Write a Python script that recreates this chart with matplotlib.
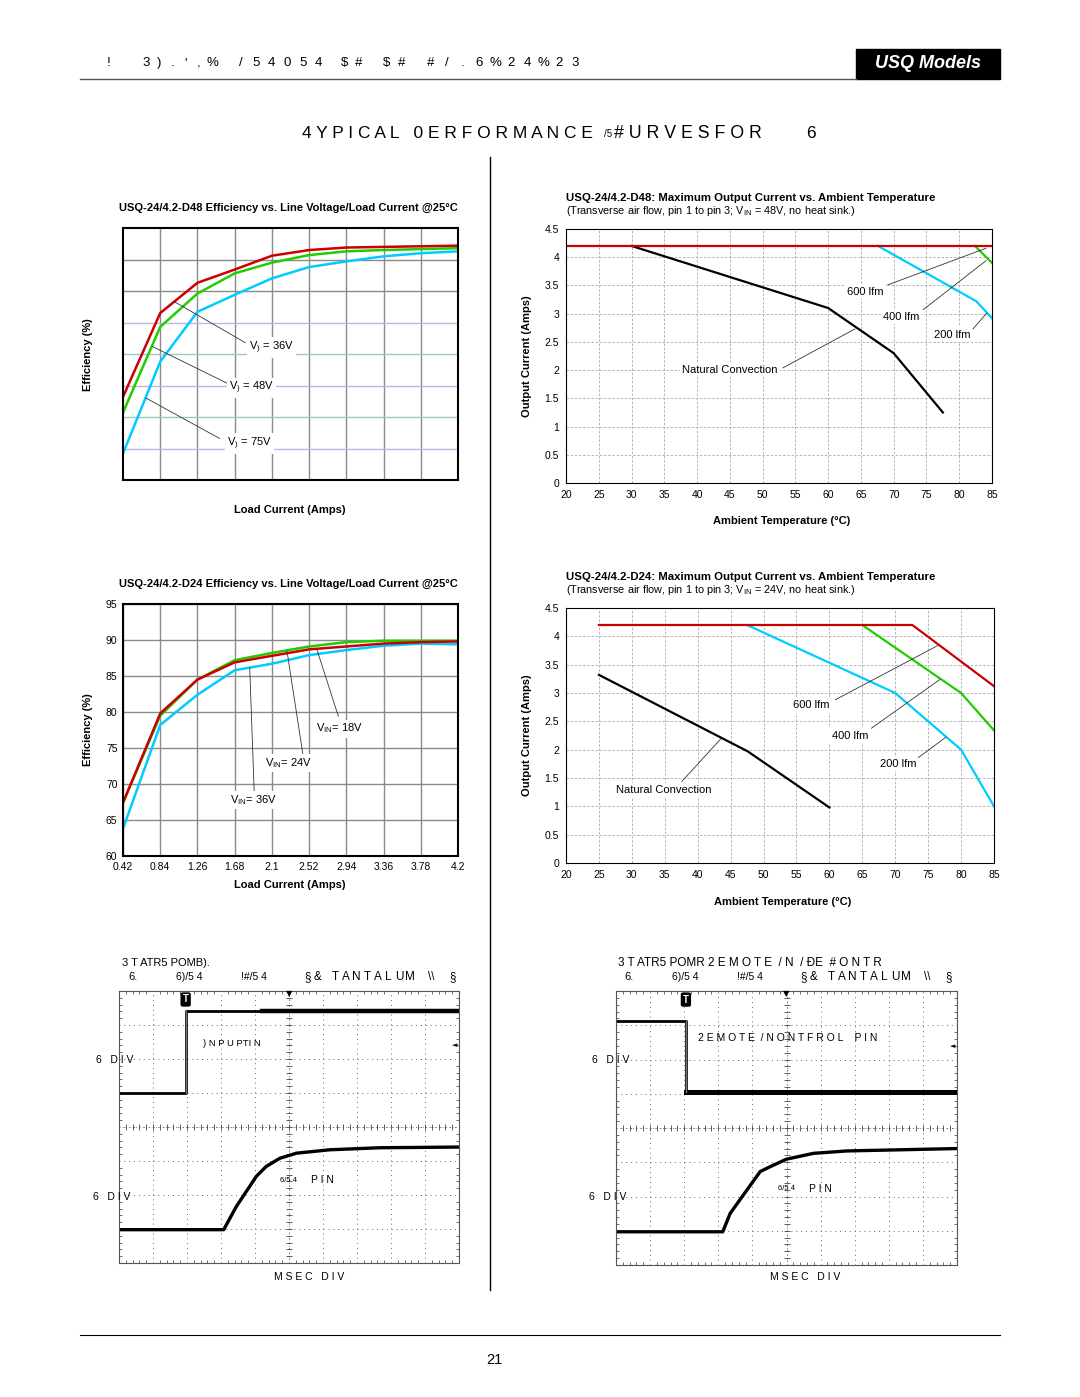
import numpy as np
import matplotlib.pyplot as plt
from matplotlib.patches import Rectangle

plt.rcParams['font.family'] = ['Liberation Sans', 'DejaVu Sans']
plt.rcParams['mathtext.fontset'] = 'custom'
plt.rcParams['mathtext.rm'] = 'Liberation Sans'

W, H = 1080, 1397

# -- data --
load_amps = [0.42, 0.84, 1.26, 1.68, 2.1, 2.52, 2.94, 3.36, 3.78, 4.2]

# D48 efficiency (no scale printed, grid units 55..95)
d48_eff_36v = [68.2, 81.5, 86.3, 88.4, 90.6, 91.5, 91.9, 92.0, 92.1, 92.2]
d48_eff_48v = [65.7, 79.3, 84.6, 87.8, 89.5, 90.7, 91.3, 91.5, 91.65, 91.8]
d48_eff_75v = [59.2, 73.8, 81.7, 84.4, 87.0, 88.8, 89.7, 90.5, 91.0, 91.3]

# D24 efficiency
d24_eff_18v = [67.4, 79.8, 84.5, 86.9, 87.8, 88.7, 89.1, 89.5, 89.7, 89.8]
d24_eff_24v = [67.4, 79.5, 84.5, 87.2, 88.2, 89.1, 89.7, 89.9, 89.9, 89.9]
d24_eff_36v = [63.8, 78.2, 82.4, 85.8, 86.7, 87.9, 88.6, 89.2, 89.5, 89.4]

# D48 derating
d48_600_t = [20, 85];             d48_600_i = [4.2, 4.2]
d48_400_t = [82.4, 85];           d48_400_i = [4.2, 3.9]
d48_200_t = [67.6, 82.6, 85];     d48_200_i = [4.2, 3.22, 2.92]
d48_nc_t = [30, 60, 70, 77.5];    d48_nc_i = [4.2, 3.1, 2.3, 1.25]

# D24 derating
d24_600_t = [25, 72.6, 85];       d24_600_i = [4.2, 4.2, 3.12]
d24_400_t = [65, 80, 85];         d24_400_i = [4.2, 3.0, 2.34]
d24_200_t = [47.5, 70, 80, 85];   d24_200_i = [4.2, 3.0, 2.0, 1.0]
d24_nc_t = [25, 47.6, 60];        d24_nc_i = [3.32, 1.97, 0.98]

# scope traces in divisions (10 x 8 screen)
sc1_in_x = [0, 1.96, 1.96, 10];   sc1_in_y = [5.0, 5.0, 7.4, 7.4]
sc1_out_x = [0, 3.08, 3.45, 4.04, 4.33, 4.73, 5.22, 6.2, 7.67, 10]
sc1_out_y = [0.98, 0.98, 1.66, 2.55, 2.84, 3.08, 3.23, 3.33, 3.39, 3.41]
sc2_ctl_x = [0, 2.05, 2.05, 10];  sc2_ctl_y = [7.12, 7.12, 5.06, 5.06]
sc2_out_x = [0, 3.13, 3.35, 3.84, 4.23, 4.52, 5.0, 5.79, 6.77, 10]
sc2_out_y = [0.97, 0.97, 1.51, 2.19, 2.73, 2.87, 3.09, 3.26, 3.33, 3.40]

RED, GREEN, CYAN = '#cc0000', '#22cc00', '#00ccff'

fig = plt.figure(figsize=(W / 100, H / 100), dpi=100)


def box(x0, y0, x1, y1):
    return [x0 / W, 1 - y1 / H, (x1 - x0) / W, (y1 - y0) / H]


def ftext(x, y, s, **kw):
    kw.setdefault('va', 'center')
    kw.setdefault('parse_math', False)
    return fig.text(x / W, 1 - y / H, s, **kw)


def spaced(x0, x1, y, chars, size, **kw):
    # letter-spaced run: one glyph per slot between x0 and x1 (centres)
    n = len(chars)
    for k, ch in enumerate(chars):
        x = x0 + (x1 - x0) * k / (n - 1) if n > 1 else x0
        ftext(x, y, ch, fontsize=size, ha='center', **kw)


def leader(ax, p0, p1, label, tp, size=8):
    ax.plot([p0[0], p1[0]], [p0[1], p1[1]], color='#333333', lw=0.6, zorder=4)
    ax.text(tp[0], tp[1], label, ha='center', va='center', fontsize=size, zorder=5,
            bbox=dict(facecolor='white', edgecolor='none', pad=1.5))


# ---------------- page furniture ----------------
ftext(109, 63, '!', fontsize=9.5, ha='center')
spaced(146, 212, 63, "3).',%", 9.5)
spaced(241, 318, 63, '/54054', 9.5)
spaced(345, 359, 63, '$#', 9.5)
spaced(387, 402, 63, '$#', 9.5)
spaced(431, 575, 63, '#/.6%24%23', 9.5)
fig.add_artist(plt.Line2D([80 / W, 856 / W], [1 - 79 / H] * 2, color='#555555', lw=1))
fig.add_artist(Rectangle((856 / W, 1 - 79 / H), 144 / W, 30 / H, color='black',
                         transform=fig.transFigure))
ftext(928, 64, 'USQ Models', fontsize=13, color='white', weight='bold',
      style='italic', ha='center')
ftext(302, 133, '4 Y P I C A L   0 E R F O R M A N C E', fontsize=12.5, ha='left')
ftext(604, 134, '/5', fontsize=7, ha='left')
ftext(614, 133, '# U R V E S F O R', fontsize=12.8, ha='left')
ftext(806, 133, '6', fontsize=12.5, ha='left')
fig.add_artist(plt.Line2D([490 / W] * 2, [1 - 157 / H, 1 - 1290 / H], color='black', lw=1))
fig.add_artist(plt.Line2D([80 / W, 1000 / W], [1 - 1335 / H] * 2, color='black', lw=0.8))
ftext(494, 1360, '21', fontsize=10.5, ha='center')

# ---------------- D48 efficiency ----------------
ax = fig.add_axes(box(123, 228, 458, 480))
ax.set_xlim(0.42, 4.2)
ax.set_ylim(55, 95)
for xv in load_amps[1:-1]:
    ax.axvline(xv, color='#8a8a8a', lw=1.0, zorder=0)
grid_cols = ['#b8b8e6', '#9cc8c8', '#b8b8e6', '#9cc8c8', '#b8b8e6', '#8a8a8a', '#8a8a8a']
for yv, c in zip(range(60, 95, 5), grid_cols):
    ax.axhline(yv, color=c, lw=1.0, zorder=0)
ax.plot(load_amps, d48_eff_75v, color=CYAN, lw=1.8)
ax.plot(load_amps, d48_eff_48v, color=GREEN, lw=1.8)
ax.plot(load_amps, d48_eff_36v, color=RED, lw=1.8)
ax.set_xticks([]); ax.set_yticks([])
for s in ax.spines.values():
    s.set_linewidth(1.5)
leader(ax, (1.0, 83.3), (1.80, 76.8), r'V$_{)}$ = 36V', (2.1, 76.0))
leader(ax, (0.75, 76.2), (1.59, 70.4), r'V$_{)}$ = 48V', (1.87, 69.6))
leader(ax, (0.68, 68.0), (1.51, 61.6), r'V$_{)}$ = 75V', (1.85, 60.8))
ftext(288, 208, 'USQ-24/4.2-D48 Efficiency vs. Line Voltage/Load Current @25°C',
      fontsize=8, weight='bold', ha='center')
ftext(88, 355, 'Efficiency (%)', fontsize=8, weight='bold', rotation=90, ha='center')
ftext(290, 510, 'Load Current (Amps)', fontsize=8, weight='bold', ha='center')

# ---------------- D24 efficiency ----------------
ax = fig.add_axes(box(123, 604, 458, 856))
ax.set_xlim(0.42, 4.2)
ax.set_ylim(60, 95)
ax.set_xticks(load_amps)
ax.set_xticklabels(['{:g}'.format(v) for v in load_amps])
ax.set_yticks(range(60, 96, 5))
ax.grid(color='#8a8a8a', lw=1.0)
ax.set_axisbelow(True)
ax.tick_params(length=0, labelsize=7.5, pad=4)
ax.plot(load_amps, d24_eff_36v, color=CYAN, lw=1.8)
ax.plot(load_amps, d24_eff_24v, color=GREEN, lw=1.8)
ax.plot(load_amps, d24_eff_18v, color=RED, lw=1.8)
for s in ax.spines.values():
    s.set_linewidth(1.5)
leader(ax, (2.61, 88.6), (2.85, 79.4), r'V$_{\rm IN}$= 18V', (2.86, 77.7))
leader(ax, (2.27, 88.5), (2.45, 74.1), r'V$_{\rm IN}$= 24V', (2.29, 72.9))
leader(ax, (1.85, 86.1), (1.90, 69.1), r'V$_{\rm IN}$= 36V', (1.89, 67.75))
ftext(288, 584, 'USQ-24/4.2-D24 Efficiency vs. Line Voltage/Load Current @25°C',
      fontsize=8, weight='bold', ha='center')
ftext(88, 730, 'Efficiency (%)', fontsize=8, weight='bold', rotation=90, ha='center')
ftext(290, 885, 'Load Current (Amps)', fontsize=8, weight='bold', ha='center')


# ---------------- derating charts ----------------
def derate(pos, series, title, sub, xlab_y):
    ax = fig.add_axes(box(*pos))
    ax.set_xlim(20, 85)
    ax.set_ylim(0, 4.5)
    ax.set_xticks(range(20, 86, 5))
    ax.set_yticks(np.arange(0, 4.51, 0.5))
    ax.set_yticklabels(['{:g}'.format(v) for v in np.arange(0, 4.51, 0.5)])
    ax.grid(color='#aaaaaa', lw=0.6, ls=(0, (3, 2)))
    ax.set_axisbelow(True)
    ax.tick_params(length=0, labelsize=7.5, pad=5)
    for t, i, c in series:
        ax.plot(t, i, color=c, lw=1.6)
    ftext(pos[0], pos[1] - 31, title, fontsize=8.2, weight='bold', ha='left')
    ftext(pos[0], pos[1] - 18, sub, fontsize=7.8, ha='left', parse_math=True)
    ftext(527, (pos[1] + pos[3]) / 2, 'Output Current (Amps)', fontsize=8,
          weight='bold', rotation=90, ha='center')
    ftext((pos[0] + pos[2]) / 2 + 3, xlab_y, 'Ambient Temperature (°C)', fontsize=8,
          weight='bold', ha='center')
    return ax


ax = derate((566, 229, 992, 483),
            [(d48_nc_t, d48_nc_i, 'black'), (d48_200_t, d48_200_i, CYAN),
             (d48_400_t, d48_400_i, GREEN), (d48_600_t, d48_600_i, RED)],
            'USQ-24/4.2-D48: Maximum Output Current vs. Ambient Temperature',
            r'(Transverse air flow, pin 1 to pin 3; V$_{\rm IN}$ = 48V, no heat sink.)', 521)
leader(ax, (69.1, 3.51), (84.1, 4.16), '600 lfm', (65.6, 3.38))
leader(ax, (74.5, 3.07), (84.1, 3.94), '400 lfm', (71.2, 2.94))
leader(ax, (82.1, 2.73), (84.2, 3.01), '200 lfm', (78.9, 2.63))
leader(ax, (53.1, 2.04), (64.1, 2.73), 'Natural Convection', (45.0, 2.01))

ax = derate((566, 608, 994, 863),
            [(d24_nc_t, d24_nc_i, 'black'), (d24_200_t, d24_200_i, CYAN),
             (d24_400_t, d24_400_i, GREEN), (d24_600_t, d24_600_i, RED)],
            'USQ-24/4.2-D24: Maximum Output Current vs. Ambient Temperature',
            r'(Transverse air flow, pin 1 to pin 3; V$_{\rm IN}$ = 24V, no heat sink.)', 902)
leader(ax, (60.9, 2.88), (76.5, 3.84), '600 lfm', (57.3, 2.78))
leader(ax, (66.4, 2.38), (76.8, 3.24), '400 lfm', (63.1, 2.25))
leader(ax, (73.5, 1.86), (77.7, 2.22), '200 lfm', (70.4, 1.75))
leader(ax, (37.6, 1.44), (43.5, 2.19), 'Natural Convection', (34.9, 1.29))


# ---------------- scope shots ----------------
def scope(pos, top_x, top_y, bot_x, bot_y, noisy_from, noisy_lw):
    ax = fig.add_axes(box(*pos))
    ax.set_xlim(0, 10)
    ax.set_ylim(0, 8)
    ax.set_xticks(range(11))
    ax.set_yticks(range(9))
    ax.set_xticks(np.arange(0, 10.01, 0.2), minor=True)
    ax.set_yticks(np.arange(0, 8.01, 0.2), minor=True)
    ax.tick_params(which='both', direction='in', labelbottom=False, labelleft=False,
                   top=True, right=True)
    ax.tick_params(which='major', length=0)
    ax.tick_params(which='minor', length=2.5, width=0.6, color='#555555')
    ax.grid(color='#666666', lw=0.7, ls=(0, (1, 4)))
    ax.axhline(4, color='#666666', lw=0.6, ls=(0, (1, 3)))
    ax.axvline(5, color='#666666', lw=0.6, ls=(0, (1, 3)))
    ax.plot(np.arange(0, 10.01, 0.2), [4] * 51, ls='none', marker='|', ms=4,
            color='#444444', mew=0.6)
    ax.plot([5] * 41, np.arange(0, 8.01, 0.2), ls='none', marker='_', ms=4,
            color='#444444', mew=0.6)
    for s in ax.spines.values():
        s.set_color('#555555')
        s.set_linewidth(0.8)
    ax.plot(top_x, top_y, color='black', lw=2.0)
    ax.plot([noisy_from, 10], [top_y[-1]] * 2, color='black', lw=noisy_lw)
    ax.plot(bot_x, bot_y, color='black', lw=2.4)
    ax.plot([top_x[1]] * 2, [top_y[1], top_y[2]], color='#777777', lw=1.0)
    ax.text(top_x[1], 7.75, 'T', ha='center', va='center', fontsize=7, color='white',
            weight='bold', bbox=dict(boxstyle='round,pad=0.15', facecolor='black'))
    ax.text(5, 7.93, '▼', ha='center', va='center', fontsize=6, family='DejaVu Sans')
    ax.text(9.88, 6.4, '◄', ha='center', va='center', fontsize=5, family='DejaVu Sans')
    return ax


scope((119, 991, 459, 1263), sc1_in_x, sc1_in_y, sc1_out_x, sc1_out_y, 4.2, 3.2)
scope((616, 991, 957, 1265), sc2_ctl_x, sc2_ctl_y, sc2_out_x, sc2_out_y, 2.05, 3.6)

for x0, line1, fs in [(122, '3 T ATR5 POMB).', 8),
                      (618, '3 T ATR5 POMR 2 E M O T E  / N  / ÐE  # O N T R', 8.5)]:
    ftext(x0, 963, line1, fontsize=fs, ha='left')
    ftext(x0 + 6, 977, '6.', fontsize=8, ha='left')
    ftext(x0 + 54, 977, '6)/5 4', fontsize=7.5, ha='left')
    ftext(x0 + 119, 977, '!#/5 4', fontsize=7.5, ha='left')
    spaced(x0 + 186, x0 + 196, 977, '§&', 8.3)
    spaced(x0 + 213, x0 + 288, 977, 'TANTALUM', 8.5)
    ftext(x0 + 309, 977, '\\\\', fontsize=8.3, ha='center')
    ftext(x0 + 331, 977, '§', fontsize=8.3, ha='center')
    ftext(x0 + 187, 1277, 'M S E C   D I V', fontsize=7.5, ha='center')
    ftext(x0 - 26, 1060, '6   D I V', fontsize=7.5, ha='left')
    ftext(x0 - 29, 1197, '6   D I V', fontsize=7.5, ha='left')

ftext(203, 1044, ') N P U PTI N', fontsize=6.8, ha='left')
ftext(280, 1180, '6/5 4', fontsize=5.5, ha='left')
ftext(311, 1180, 'P I N', fontsize=7.5, ha='left')
ftext(698, 1038, '2 E M O T E  / N O N T F R O L    P I N', fontsize=7.5, ha='left')
ftext(778, 1189, '6/5 4', fontsize=5.5, ha='left')
ftext(809, 1189, 'P I N', fontsize=7.5, ha='left')

fig.savefig('out.png', dpi=100)
